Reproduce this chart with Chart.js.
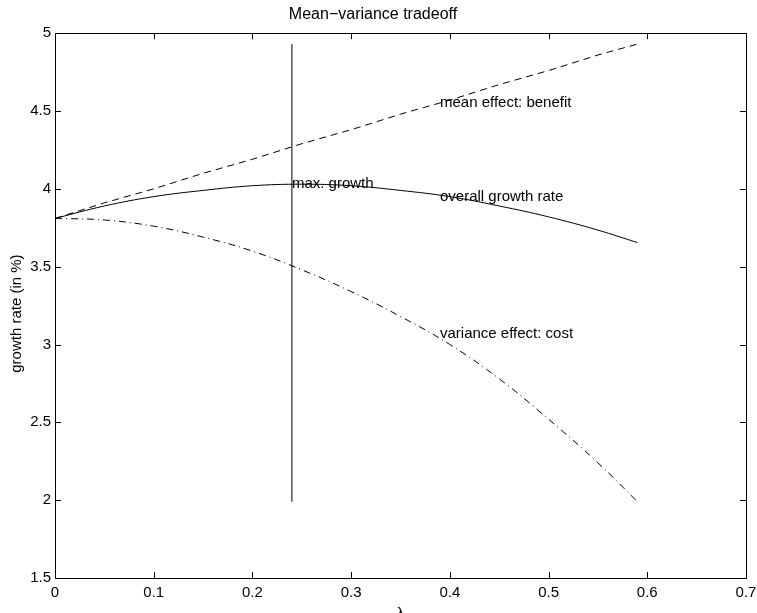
<!DOCTYPE html>
<html>
<head>
<meta charset="utf-8">
<script src="https://cdn.jsdelivr.net/npm/chart.js@4.4.0/dist/chart.umd.min.js"></script>
<style>
  html, body { margin: 0; padding: 0; background: #fff; overflow: hidden; }
  #wrap { width: 757px; height: 613px; }
</style>
</head>
<body>
<div id="wrap"><canvas id="chart"></canvas></div>
<script>
/******** data ********/
const LAMBDA          = [0, 0.05, 0.1, 0.15, 0.2, 0.25, 0.3, 0.35, 0.4, 0.45, 0.5, 0.55, 0.59];
const MEAN_EFFECT     = [3.81, 3.91, 4.00, 4.10, 4.19, 4.29, 4.38, 4.48, 4.57, 4.67, 4.76, 4.86, 4.93];
const OVERALL_GROWTH  = [3.81, 3.89, 3.95, 3.99, 4.02, 4.03, 4.02, 3.99, 3.95, 3.89, 3.82, 3.735, 3.655];
const VARIANCE_EFFECT = [3.81, 3.80, 3.76, 3.69, 3.60, 3.48, 3.34, 3.18, 3.00, 2.78, 2.52, 2.24, 1.99];

const MAX_LAMBDA = [0.24, 0.24];
const MAX_LINE   = [1.99, 4.93];

const NOTE_TEXT = ['max. growth', 'mean effect: benefit', 'overall growth rate', 'variance effect: cost'];
const NOTE_X    = [0.24, 0.39, 0.39, 0.39];
const NOTE_Y    = [4.03, 4.55, 3.95, 3.07];

const FONT = '"Liberation Sans", Arial, Helvetica, sans-serif';

function points(xs, ys) {
  return xs.map((x, i) => ({ x: x, y: ys[i] }));
}

// matlab-like box, inward ticks on all four sides, text notes
const matlabBox = {
  id: 'matlabBox',
  afterDatasetsDraw(chart) {
    const { ctx, chartArea: a, scales: { x, y } } = chart;
    ctx.save();
    ctx.strokeStyle = '#000';
    ctx.lineWidth = 1;
    ctx.beginPath();
    x.ticks.forEach(t => {
      const px = Math.round(x.getPixelForValue(t.value)) + 0.5;
      ctx.moveTo(px, a.bottom); ctx.lineTo(px, a.bottom - 6);
      ctx.moveTo(px, a.top);    ctx.lineTo(px, a.top + 6);
    });
    y.ticks.forEach(t => {
      const py = Math.round(y.getPixelForValue(t.value)) + 0.5;
      ctx.moveTo(a.left, py);  ctx.lineTo(a.left + 6, py);
      ctx.moveTo(a.right, py); ctx.lineTo(a.right - 6, py);
    });
    ctx.stroke();
    ctx.strokeRect(Math.round(a.left) + 0.5, Math.round(a.top) + 0.5,
                   Math.round(a.width), Math.round(a.height));

    ctx.fillStyle = '#000';
    ctx.font = '15px ' + FONT;
    ctx.textAlign = 'left';
    ctx.textBaseline = 'middle';
    NOTE_TEXT.forEach((s, i) => {
      ctx.fillText(s, x.getPixelForValue(NOTE_X[i]), y.getPixelForValue(NOTE_Y[i]));
    });

    // axis labels
    ctx.textAlign = 'center';
    ctx.textBaseline = 'top';
    ctx.fillText('λ', (a.left + a.right) / 2, a.bottom + 28);
    ctx.translate(17, (a.top + a.bottom) / 2 + 8);
    ctx.rotate(-Math.PI / 2);
    ctx.textBaseline = 'middle';
    ctx.fillText('growth rate (in %)', 0, 0);
    ctx.restore();
  }
};

const line = (data, dash, smooth) => ({
  data: data,
  borderColor: '#000',
  borderWidth: 1,
  borderDash: dash,
  pointRadius: 0,
  fill: false,
  tension: smooth ? 0.4 : 0
});

new Chart(document.getElementById('chart'), {
  type: 'line',
  data: {
    datasets: [
      line(points(LAMBDA, MEAN_EFFECT), [7, 5], false),
      line(points(LAMBDA, OVERALL_GROWTH), [], true),
      line(points(LAMBDA, VARIANCE_EFFECT), [7, 4, 1, 4], true),
      line(points(MAX_LAMBDA, MAX_LINE), [], false)
    ]
  },
  options: {
    responsive: true,
    maintainAspectRatio: false,
    animation: false,
    devicePixelRatio: 1,
    layout: { padding: { right: 11 } },
    plugins: {
      legend: { display: false },
      tooltip: { enabled: false },
      title: {
        display: true,
        text: 'Mean\u2212variance tradeoff',
        color: '#000',
        font: { family: FONT, size: 16, weight: 'normal' },
        padding: { top: 5, bottom: 9 }
      }
    },
    scales: {
      x: {
        type: 'linear', min: 0, max: 0.7,
        grid: { display: false, drawTicks: false },
        border: { display: false },
        ticks: {
          stepSize: 0.1, padding: 6, maxRotation: 0, color: '#000',
          font: { family: FONT, size: 15 },
          callback: v => String(+v.toFixed(1))
        },
        afterFit(s) { s.height = 35; s.paddingLeft = 0; s.paddingRight = 0; }
      },
      y: {
        type: 'linear', min: 1.5, max: 5,
        grid: { display: false, drawTicks: false },
        border: { display: false },
        ticks: {
          stepSize: 0.5, padding: 4, color: '#000',
          font: { family: FONT, size: 15 },
          callback: v => String(+v.toFixed(1))
        },
        afterFit(s) { s.width = 55; }
      }
    }
  },
  plugins: [matlabBox]
});
</script>
</body>
</html>
